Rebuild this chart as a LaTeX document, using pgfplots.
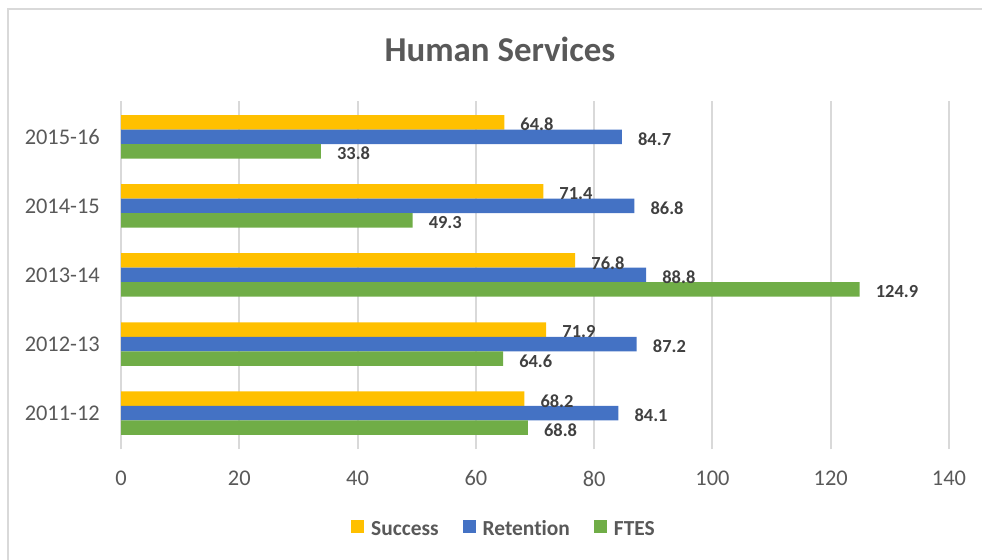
\documentclass[border=0pt]{standalone}
\usepackage{pgfplots}
\pgfplotsset{compat=1.18}
\usepackage{fontspec}
\setmainfont{Carlito}[Ligatures=NoCommon]
\definecolor{success}{HTML}{FFC000}
\definecolor{retention}{HTML}{4472C4}
\definecolor{ftes}{HTML}{70AD47}
\definecolor{txt}{HTML}{595959}
\definecolor{lbl}{HTML}{404040}
\definecolor{grd}{HTML}{D9D9D9}

\begin{document}
\begin{tikzpicture}
\useasboundingbox (0,0) rectangle (982bp,560bp);
% chart area border (right and bottom fall outside the crop)
\draw[grd, line width=1.5bp] (8bp,-10bp) -- (8bp,551bp) -- (1000bp,551bp);
\begin{axis}[
    at={(121bp,111bp)}, anchor=south west,
    scale only axis, width=828bp, height=348bp,
    xbar, bar width=14.5bp,
    xmin=0, xmax=140, ymin=-0.52, ymax=4.52,
    xtick={0,20,...,140},
    ytick={0,...,4},
    yticklabels={2011-12,2012-13,2013-14,2014-15,2015-16},
    axis line style={draw=none},
    major tick length=0pt,
    xmajorgrids, grid style={grd, line width=2bp},
    /pgf/number format/assume math mode=true,
    ticklabel style={font=\fontsize{22.5}{27}\selectfont, text=txt, inner sep=0pt},
    xticklabel style={anchor=north, yshift=-21.5bp},
    yticklabel style={anchor=east, xshift=-21bp},
    nodes near coords={\pgfmathprintnumber[fixed,precision=1,zerofill]{\pgfplotspointmeta}},
    every node near coord/.append style={font=\fontsize{18.5}{22}\selectfont\bfseries, text=lbl, anchor=west, inner sep=0pt, xshift=16bp, yshift=-2.3bp},
    legend columns=3,
    legend style={at={(0.2778,-0.2299)}, anchor=west, draw=none, inner sep=0pt,
        font=\fontsize{21.5}{26}\selectfont\bfseries, text=txt,
        /tikz/every odd column/.append style={column sep=5bp},
        /tikz/every even column/.append style={column sep=22bp}},
    legend image code/.code={\fill[#1] (0bp,-4.4bp) rectangle (13bp,8.6bp);},
]
\addplot[fill=success, draw=none, bar shift=14.5bp] coordinates {
    (68.2,0) (71.9,1) (76.8,2) (71.4,3) (64.8,4)};
\addplot[fill=retention, draw=none, bar shift=0bp] coordinates {
    (84.1,0) (87.2,1) (88.8,2) (86.8,3) (84.7,4)};
\addplot[fill=ftes, draw=none, bar shift=-14.5bp] coordinates {
    (68.8,0) (64.6,1) (124.9,2) (49.3,3) (33.8,4)};
\legend{Success,Retention,FTES}
\end{axis}
\node[anchor=base, font=\fontsize{35}{42}\selectfont\bfseries, text=txt] at (500bp,498.3bp) {Human Services};
\end{tikzpicture}
\end{document}
